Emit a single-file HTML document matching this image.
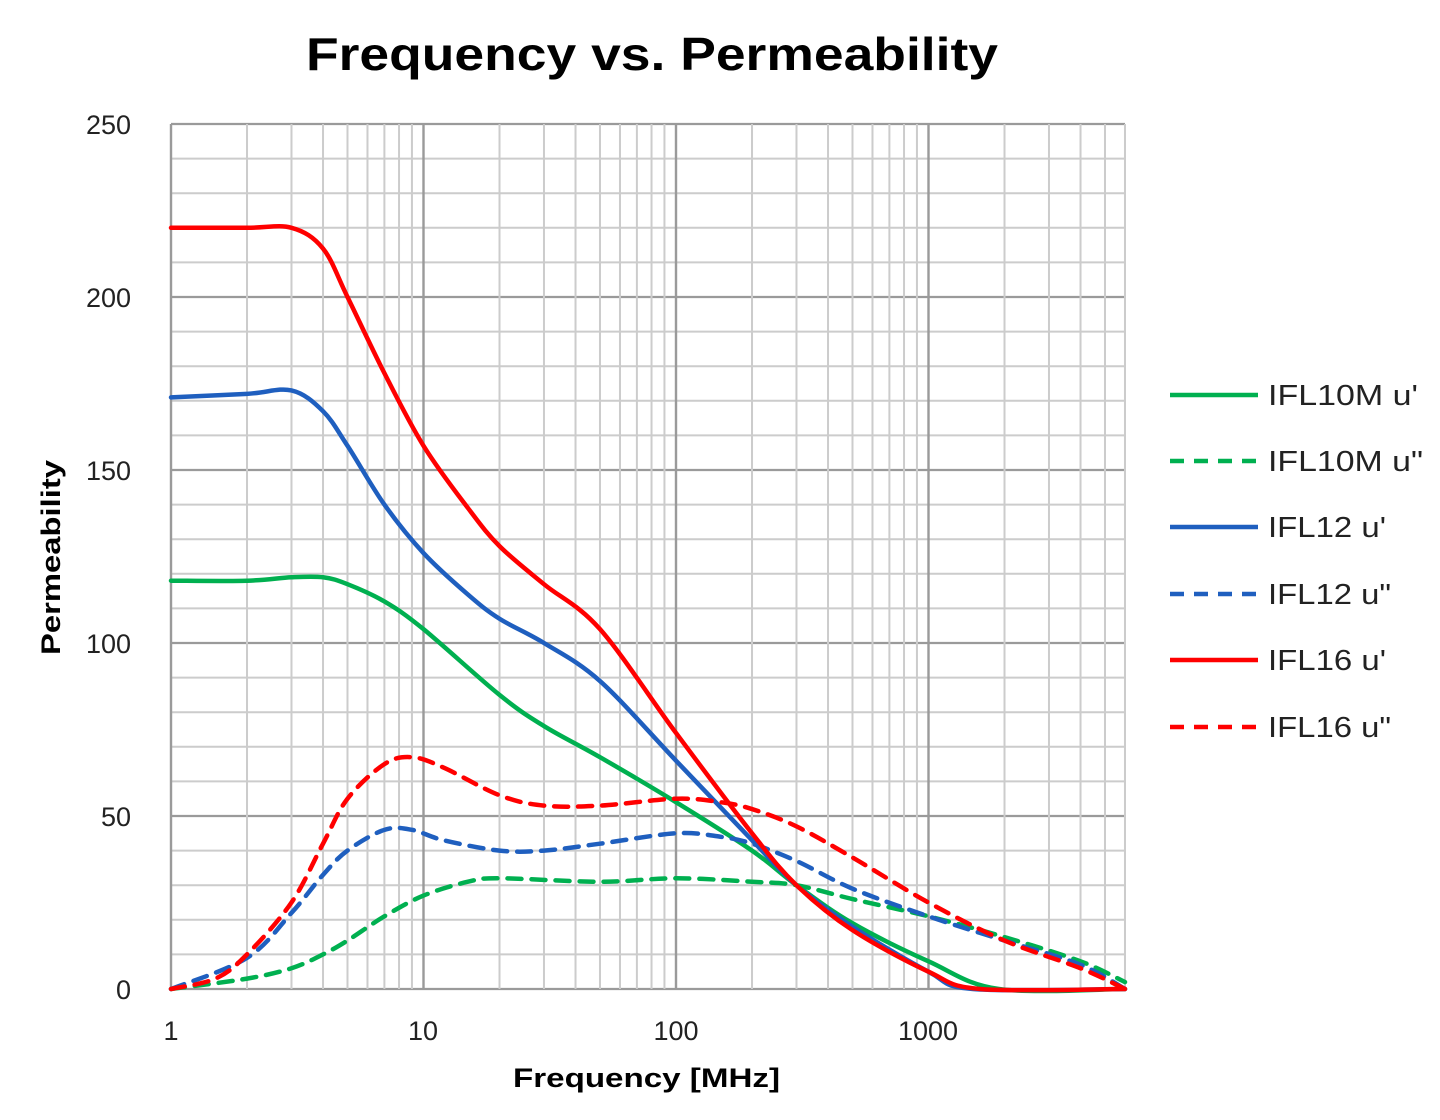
<!DOCTYPE html>
<html><head><meta charset="utf-8"><style>
body{margin:0;background:#fff;}
svg{display:block;font-family:"Liberation Sans",sans-serif;}
</style></head><body>
<svg id="s" width="1440" height="1120" viewBox="0 0 1440 1120" xmlns="http://www.w3.org/2000/svg">
<rect width="1440" height="1120" fill="#fff"/>
<g id="grid"></g>
<g id="curves" fill="none" stroke-width="4.5" stroke-linejoin="round" stroke-linecap="round"></g>
<text x="306" y="70" font-size="46" font-weight="bold" textLength="692" lengthAdjust="spacingAndGlyphs">Frequency vs. Permeability</text>
<g font-size="27" fill="#222" text-anchor="end">
<text x="131" y="134">250</text><text x="131" y="307">200</text><text x="131" y="480">150</text>
<text x="131" y="653">100</text><text x="131" y="826">50</text><text x="131" y="999">0</text>
</g>
<g font-size="27" fill="#222" text-anchor="middle">
<text x="171" y="1040">1</text><text x="423" y="1040">10</text><text x="676" y="1040">100</text><text x="928" y="1040">1000</text>
</g>
<text x="513" y="1087" font-size="27" font-weight="bold" textLength="267" lengthAdjust="spacingAndGlyphs">Frequency [MHz]</text>
<text transform="translate(60,655) rotate(-90)" font-size="27" font-weight="bold" textLength="195" lengthAdjust="spacingAndGlyphs">Permeability</text>
<g stroke-width="4.5" fill="none">
<line x1="1170" y1="395" x2="1258" y2="395" stroke="#00b050"/>
<line x1="1170" y1="461" x2="1258" y2="461" stroke="#00b050" stroke-dasharray="14,10"/>
<line x1="1170" y1="527" x2="1258" y2="527" stroke="#1f5fbf"/>
<line x1="1170" y1="594" x2="1258" y2="594" stroke="#1f5fbf" stroke-dasharray="14,10"/>
<line x1="1170" y1="660" x2="1258" y2="660" stroke="#ff0000"/>
<line x1="1170" y1="727" x2="1258" y2="727" stroke="#ff0000" stroke-dasharray="14,10"/>
</g>
<g font-size="29" fill="#222">
<text x="1268" y="405" textLength="150" lengthAdjust="spacingAndGlyphs">IFL10M u'</text><text x="1268" y="471" textLength="155" lengthAdjust="spacingAndGlyphs">IFL10M u"</text>
<text x="1268" y="537" textLength="118" lengthAdjust="spacingAndGlyphs">IFL12 u'</text><text x="1268" y="604" textLength="123" lengthAdjust="spacingAndGlyphs">IFL12 u"</text>
<text x="1268" y="670" textLength="118" lengthAdjust="spacingAndGlyphs">IFL16 u'</text><text x="1268" y="737" textLength="123" lengthAdjust="spacingAndGlyphs">IFL16 u"</text>
</g>
</svg>
<script>
const X=f=>171+252.5*Math.log10(f), Y=v=>989-3.46*v;
const R=1125;
let g=document.getElementById('grid'),h='';
for(let v=0;v<=250;v+=10){const maj=v%50==0;h+=`<line x1="171" x2="${R}" y1="${Y(v)}" y2="${Y(v)}" stroke="${maj?'#9a9a9a':'#cccccc'}" stroke-width="${maj?2.2:2}"/>`;}
for(let d=1;d<=1000;d*=10)for(let k=1;k<10;k++){const f=d*k,x=X(f);if(x>R+1)break;h+=`<line x1="${x}" x2="${x}" y1="124" y2="989" stroke="${k==1?'#9a9a9a':'#cccccc'}" stroke-width="${k==1?2.4:2}"/>`;}
h+=`<line x1="${R}" x2="${R}" y1="124" y2="989" stroke="#cccccc" stroke-width="2"/>`;
g.innerHTML=h;
function path(d){const p=d.map(a=>[X(a[0]),Y(a[1])]);let s=`M${p[0][0]},${p[0][1]}`;
for(let i=0;i<p.length-1;i++){const p0=p[i-1]||p[i],p1=p[i],p2=p[i+1],p3=p[i+2]||p2;
s+=`C${p1[0]+(p2[0]-p0[0])/6},${p1[1]+(p2[1]-p0[1])/6} ${p2[0]-(p3[0]-p1[0])/6},${p2[1]-(p3[1]-p1[1])/6} ${p2[0]},${p2[1]}`;}return s;}
const S=[
["#00b050",0,[[1,118],[2,118],[3,119],[4,119],[5,117],[7,112],[10,104],[20,85],[30,76],[50,67],[100,54],[200,40],[300,30],[500,19],[1000,8],[1900,0],[6000,0]]],
["#1f5fbf",0,[[1,171],[2,172],[3,173],[4,167],[5,157],[7,140],[10,126],[15,114],[20,107],[30,100],[50,89],[100,66],[200,43],[300,30],[500,18],[1000,5],[1500,0],[6000,0]]],
["#00b050",1,[[1,0],[2,3],[3,6],[4,10],[5,14],[7,21],[10,27],[15,31],[20,32],[50,31],[100,32],[200,31],[300,30],[500,26],[1000,21],[2000,15],[4000,8],[6000,2]]],
["#1f5fbf",1,[[1,0],[2,9],[3,22],[4,33],[5,40],[7,46],[9,46],[12,43],[20,40],[30,40],[50,42],[100,45],[150,44],[200,42],[300,37],[500,29],[1000,21],[2000,14],[4000,7],[6000,0]]],
["#ff0000",1,[[1,0],[1.5,3],[2,10],[3,25],[4,42],[5,55],[7,65],[9,67],[12,64],[20,56],[30,53],[50,53],[100,55],[150,54],[200,52],[300,47],[500,38],[1000,25],[2000,14],[4000,6],[6000,0]]],
["#ff0000",0,[[1,220],[2,220],[3,220],[4,214],[5,200],[7,178],[10,157],[15,139],[20,128],[30,117],[50,104],[100,74],[200,45],[300,30],[500,17],[1000,5],[1600,0],[6000,0]]]];
let c='';for(const [col,dash,d] of S)c+=`<path d="${path(d)}" stroke="${col}" ${dash?'stroke-dasharray="14,10"':''}/>`;
document.getElementById('curves').innerHTML=c;
</script>
</body></html>
